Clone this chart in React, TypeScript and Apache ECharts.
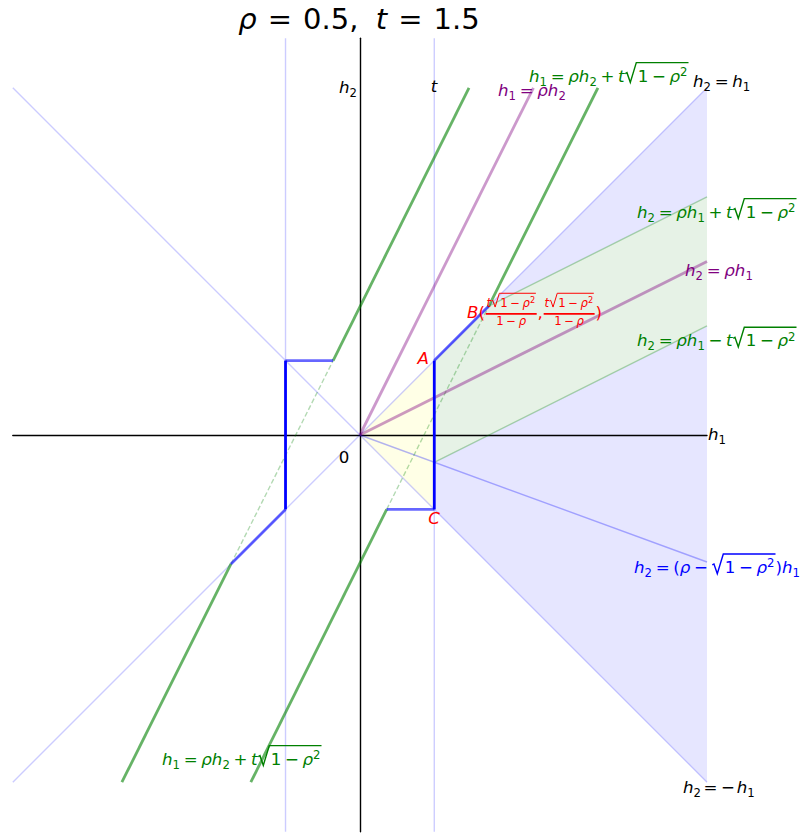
import React, { useEffect, useRef } from "react";
import * as echarts from "echarts";

// ---------------- data ----------------
const X_MIN = -7, X_MAX = 7, Y_MIN = -8, Y_MAX = 8;

const diagLine = [[-7, -7], [7, 7]];          // h2 = h1
const antiDiagLine = [[-7, 7], [7, -7]];      // h2 = -h1
const tLine = [[1.5, -8], [1.5, 8]];          // h1 = t
const negTLine = [[-1.5, -8], [-1.5, 8]];     // h1 = -t
const rhoH1Line = [[0, 0], [7, 3.5]];         // h2 = rho h1
const rhoH2Line = [[0, 0], [3.5, 7]];         // h1 = rho h2
const lowSlopeLine = [[0, 0], [7, -2.56]];    // h2 = (rho - sqrt(1-rho^2)) h1
const bandUpperEdge = [[2.6, 2.6], [7, 4.8]];
const bandLowerEdge = [[1.5, -0.55], [7, 2.2]];
const greenLeftLow = [[-4.8, -7], [-2.6, -2.6]];
const greenLeftHigh = [[-0.54, 1.5], [2.2, 7]];
const greenRightLow = [[-2.2, -7], [0.54, -1.5]];
const greenRightHigh = [[2.6, 2.6], [4.8, 7]];
const dashLeft = [[-2.6, -2.6], [-0.54, 1.5]];
const dashRight = [[0.54, -1.5], [2.6, 2.6]];
const pathLeftDiag = [[-2.6, -2.6], [-1.5, -1.5]];
const pathLeftVert = [[-1.5, -1.5], [-1.5, 1.5]];
const pathLeftHoriz = [[-1.5, 1.5], [-0.54, 1.5]];
const pathRightHoriz = [[0.54, -1.5], [1.5, -1.5]];
const pathRightVert = [[1.5, -1.5], [1.5, 1.5]];
const pathRightDiag = [[1.5, 1.5], [2.6, 2.6]];
const wedgePoly = [[1.5, 1.5], [7, 7], [7, -7], [1.5, -1.5]];
const bandPoly = [[1.5, -0.55], [1.5, 1.5], [2.6, 2.6], [7, 4.8], [7, 2.2]];
const triPoly = [[0, 0], [1.5, 1.5], [1.5, -1.5]];

// ---------------- math text ----------------
const FAM = '"DejaVu Sans", sans-serif';
const FS = 16.67;

type N =
  | { k: "t"; s: string; it?: boolean }
  | { k: "sp"; w: number }
  | { k: "sub"; c: N[] }
  | { k: "sup"; c: N[] }
  | { k: "sqrt"; c: N[] }
  | { k: "frac"; n: N[]; d: N[] };

const I = (s: string): N => ({ k: "t", s, it: true });
const R = (s: string): N => ({ k: "t", s });
const SP = (w: number): N => ({ k: "sp", w });
const SUB = (s: string): N => ({ k: "sub", c: [R(s)] });
const SUP = (s: string): N => ({ k: "sup", c: [R(s)] });
const OP = (s: string, g = 0.22): N[] => [SP(g), R(s), SP(g)];
const SQ = (c: N[]): N => ({ k: "sqrt", c });
const FR = (n: N[], d: N[]): N => ({ k: "frac", n, d });

const rootTerm = (): N => SQ([R("1"), ...OP("−"), I("ρ"), SUP("2")]);

const titleText: N[] = [I("ρ"), ...OP("=", 0.38), R("0.5,"), SP(0.6), I("t"), ...OP("=", 0.38), R("1.5")];
const lblH2Axis: N[] = [I("h"), SUB("2")];
const lblH1Axis: N[] = [I("h"), SUB("1")];
const lblT: N[] = [I("t")];
const lblZero: N[] = [R("0")];
const lblTopGreen: N[] = [I("h"), SUB("1"), ...OP("="), I("ρ"), I("h"), SUB("2"), ...OP("+"), I("t"), rootTerm()];
const lblDiag: N[] = [I("h"), SUB("2"), ...OP("="), I("h"), SUB("1")];
const lblRhoH2: N[] = [I("h"), SUB("1"), ...OP("="), I("ρ"), I("h"), SUB("2")];
const lblUpperBand: N[] = [I("h"), SUB("2"), ...OP("="), I("ρ"), I("h"), SUB("1"), ...OP("+"), I("t"), rootTerm()];
const lblRhoH1: N[] = [I("h"), SUB("2"), ...OP("="), I("ρ"), I("h"), SUB("1")];
const lblLowerBand: N[] = [I("h"), SUB("2"), ...OP("="), I("ρ"), I("h"), SUB("1"), ...OP("−"), I("t"), rootTerm()];
const lblLowSlope: N[] = [I("h"), SUB("2"), ...OP("="), R("("), I("ρ"), ...OP("−"), rootTerm(), R(")"), I("h"), SUB("1")];
const lblBottomGreen: N[] = [I("h"), SUB("1"), ...OP("="), I("ρ"), I("h"), SUB("2"), ...OP("+"), I("t"), rootTerm()];
const lblAnti: N[] = [I("h"), SUB("2"), SP(0.15), R("="), SP(0.22), R("−"), SP(0.1), I("h"), SUB("1")];
const lblA: N[] = [I("A")];
const lblC: N[] = [I("C")];
const fracB = (): N => FR([I("t"), rootTerm()], [R("1"), ...OP("−"), I("ρ")]);
const lblB: N[] = [I("B"), R("("), fracB(), R(","), fracB(), R(")")];

let mctx: CanvasRenderingContext2D | null = null;
const fontStr = (size: number, it: boolean) => `${it ? "italic " : ""}${size}px ${FAM}`;
function measure(s: string, size: number, it: boolean) {
  if (!mctx) mctx = document.createElement("canvas").getContext("2d");
  mctx!.font = fontStr(size, it);
  return mctx!.measureText(s).width;
}
const KC = 0.346;

function lay(nodes: N[], x: number, B: number, s: number, color: string, out: any[] | null): { w: number; top: number } {
  let cx = x;
  let top = B - 0.73 * s;
  for (const n of nodes) {
    if (n.k === "t") {
      const w = measure(n.s, s, !!n.it);
      if (out)
        out.push({
          type: "text", x: cx, y: B - KC * s, silent: true, z: 20,
          style: { text: n.s, font: fontStr(s, !!n.it), fill: color, align: "left", verticalAlign: "middle" },
        });
      cx += w;
      top = Math.min(top, B - 0.76 * s);
    } else if (n.k === "sp") {
      cx += n.w * s;
    } else if (n.k === "sub") {
      const r = lay(n.c, cx, B + 0.22 * s, 0.7 * s, color, out);
      cx += r.w;
    } else if (n.k === "sup") {
      const r = lay(n.c, cx, B - 0.36 * s, 0.7 * s, color, out);
      cx += r.w;
      top = Math.min(top, r.top);
    } else if (n.k === "sqrt") {
      const x0 = cx + 0.04 * s;
      const cs = x0 + 0.74 * s;
      const r = lay(n.c, cs, B, s, color, out);
      const barY = r.top - 0.27 * s;
      const end = cs + r.w + 0.06 * s;
      if (out)
        out.push({
          type: "polyline", silent: true, z: 20,
          shape: { points: [[x0, B - 0.5 * s], [x0 + 0.1 * s, B - 0.56 * s], [x0 + 0.3 * s, B + 0.02 * s], [x0 + 0.66 * s, barY], [end, barY]] },
          style: { stroke: color, lineWidth: 0.085 * s, fill: "none" },
        });
      cx = end;
      top = Math.min(top, barY);
    } else if (n.k === "frac") {
      const fs = 0.7 * s;
      const wn = lay(n.n, 0, 0, fs, color, null).w;
      const wd = lay(n.d, 0, 0, fs, color, null).w;
      const wf = Math.max(wn, wd) + 0.2 * s;
      const axis = B - 0.25 * s;
      const rn = lay(n.n, cx + (wf - wn) / 2, axis - 0.42 * s, fs, color, out);
      lay(n.d, cx + (wf - wd) / 2, axis + 0.66 * s, fs, color, out);
      if (out)
        out.push({
          type: "line", silent: true, z: 20,
          shape: { x1: cx + 0.05 * s, y1: axis, x2: cx + wf - 0.05 * s, y2: axis },
          style: { stroke: color, lineWidth: 0.1 * s },
        });
      cx += wf;
      top = Math.min(top, rn.top);
    }
  }
  return { w: cx - x, top };
}

function mathEls(nodes: N[], x: number, B: number, s: number, color: string, align = "left") {
  const w = lay(nodes, 0, 0, s, color, null).w;
  const x0 = align === "left" ? x : align === "right" ? x - w : x - w / 2;
  const out: any[] = [];
  lay(nodes, x0, B, s, color, out);
  return out;
}

// ---------------- chart ----------------
const lineS = (data: number[][], color: string, width: number, type: any = "solid", z = 2) => ({
  type: "line", data, symbol: "none", silent: true, z,
  lineStyle: { color, width, type, cap: "butt" },
  emphasis: { disabled: true },
});
const polyS = (pts: number[][], color: string, z = 0) => ({
  type: "custom", data: [[0, 0]], silent: true, z,
  renderItem: (_p: any, api: any) => ({
    type: "polygon",
    shape: { points: pts.map((p) => api.coord(p)) },
    style: { fill: color, stroke: "none" },
  }),
});

export default function App() {
  const ref = useRef<HTMLDivElement>(null);
  useEffect(() => {
    if (!ref.current) return;
    const chart = echarts.init(ref.current, null, { renderer: "svg" });
    const G = "#008000", P = "#800080", BL = "#0000ff", RD = "#ff0000", K = "#000000";
    const graphics = [
      ...mathEls(titleText, 359, 29, 29, K, "center"),
      ...mathEls(lblH2Axis, 357, 93, FS, K, "right"),
      ...mathEls(lblT, 434, 92, FS, K, "center"),
      ...mathEls(lblH1Axis, 708, 440, FS, K, "left"),
      ...mathEls(lblZero, 344, 463, FS, K, "center"),
      ...mathEls(lblTopGreen, 529, 82, FS, G),
      ...mathEls(lblDiag, 693, 87.5, FS, K),
      ...mathEls(lblRhoH2, 498, 96.7, FS, P),
      ...mathEls(lblUpperBand, 637, 218, FS, G),
      ...mathEls(lblRhoH1, 685, 276.7, FS, P),
      ...mathEls(lblLowerBand, 637, 346.7, FS, G),
      ...mathEls(lblLowSlope, 634, 573.3, FS, BL),
      ...mathEls(lblBottomGreen, 162, 765, FS, G),
      ...mathEls(lblAnti, 683, 793.3, FS, K),
      ...mathEls(lblA, 429, 364, FS, RD, "right"),
      ...mathEls(lblC, 434, 524, FS, RD, "center"),
      ...mathEls(lblB, 467, 318, FS, RD),
    ];
    const axisCommon = {
      type: "value",
      axisLine: { onZero: true, lineStyle: { color: "#000", width: 1.4 } },
      axisTick: { show: false },
      axisLabel: { show: false },
      splitLine: { show: false },
      z: 1,
    };
    chart.setOption({
      animation: false,
      backgroundColor: "#ffffff",
      grid: { left: 12.8, right: 94, top: 38.2, bottom: 3.2 },
      xAxis: { ...axisCommon, min: X_MIN, max: X_MAX },
      yAxis: { ...axisCommon, min: Y_MIN, max: Y_MAX },
      series: [
        polyS(wedgePoly, "#e6e6ff"),
        polyS(bandPoly, "#e6f2e6"),
        polyS(triPoly, "#ffffe6"),
        lineS(diagLine, "rgba(0,0,255,0.2)", 1.4),
        lineS(antiDiagLine, "rgba(0,0,255,0.2)", 1.4),
        lineS(tLine, "rgba(0,0,255,0.2)", 1.4),
        lineS(negTLine, "rgba(0,0,255,0.2)", 1.4),
        lineS(lowSlopeLine, "rgba(0,0,255,0.3)", 1.4),
        lineS(bandUpperEdge, "rgba(0,128,0,0.3)", 1.4),
        lineS(bandLowerEdge, "rgba(0,128,0,0.3)", 1.4),
        lineS(dashLeft, "rgba(0,128,0,0.3)", 1.4, [5, 2.5]),
        lineS(dashRight, "rgba(0,128,0,0.3)", 1.4, [5, 2.5]),
        lineS(rhoH1Line, "rgba(128,0,128,0.4)", 2.8),
        lineS(rhoH2Line, "rgba(128,0,128,0.4)", 2.8),
        lineS(greenLeftLow, "rgba(0,128,0,0.6)", 2.8),
        lineS(greenLeftHigh, "rgba(0,128,0,0.6)", 2.8),
        lineS(greenRightLow, "rgba(0,128,0,0.6)", 2.8),
        lineS(greenRightHigh, "rgba(0,128,0,0.6)", 2.8),
        lineS(pathLeftDiag, "rgba(0,0,255,0.6)", 2.8),
        lineS(pathLeftHoriz, "rgba(0,0,255,0.6)", 2.8),
        lineS(pathRightHoriz, "rgba(0,0,255,0.6)", 2.8),
        lineS(pathRightDiag, "rgba(0,0,255,0.6)", 2.8),
        lineS(pathLeftVert, "#0000ff", 2.8),
        lineS(pathRightVert, "#0000ff", 2.8),
      ],
      graphic: { elements: graphics },
    });
    return () => chart.dispose();
  }, []);
  return (
    <div
      ref={ref}
      style={{ position: "absolute", left: 0, top: 0, width: 801, height: 835, background: "#fff" }}
    />
  );
}
